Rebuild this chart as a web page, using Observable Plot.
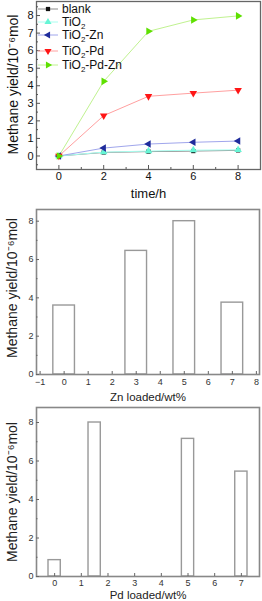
<!DOCTYPE html>
<html><head><meta charset="utf-8">
<script src="https://cdn.jsdelivr.net/npm/d3@7"></script>
<script src="https://cdn.jsdelivr.net/npm/@observablehq/plot@0.6"></script>
<style>
body{margin:0;background:#fff;font-family:"Liberation Sans",Arial,sans-serif;}
.panel{position:relative;width:262px;}
.panel svg{background:transparent;overflow:visible;}
.legend{position:absolute;left:0;top:0;font-size:12px;color:#111;}
.row{position:absolute;left:38px;height:14px;line-height:14px;display:flex;align-items:center;white-space:nowrap;}
.row svg{margin-right:4px;}
sub{font-size:8px;line-height:0;vertical-align:-3px;}
</style></head><body>
<div id="p1" class="panel"></div><div id="p2" class="panel"></div><div id="p3" class="panel"></div>
<script>
// ---- data ----
const times = [0, 2, 4, 6, 8];
const seriesNames = ["blank", "TiO2", "TiO2-Zn", "TiO2-Pd", "TiO2-Pd-Zn"];
const blankYield = [0, 0.20, 0.25, 0.28, 0.32];
const tio2Yield = [0, 0.22, 0.28, 0.33, 0.35];
const tio2ZnYield = [0, 0.45, 0.68, 0.78, 0.85];
const tio2PdYield = [0, 2.30, 3.40, 3.58, 3.75];
const tio2PdZnYield = [0, 4.25, 7.10, 7.75, 7.98];

const znLoad = [0, 3, 5, 7];
const znYield = [3.6, 6.45, 8.0, 3.75];
const pdLoad = [0, 1.5, 5, 7];
const pdYield = [0.85, 8.0, 7.15, 5.45];

const p1XTicks = [0, 2, 4, 6, 8];
const p1XMinor = [1, 3, 5, 7];
const p1YTicks = [0, 1, 2, 3, 4, 5, 6, 7, 8];
const p1YMinor = [-0.5, 0.5, 1.5, 2.5, 3.5, 4.5, 5.5, 6.5, 7.5, 8.5];
const p2XTicks = [-1, 0, 1, 2, 3, 4, 5, 6, 7, 8];
const p2YTicks = [0, 2, 4, 6, 8];
const p2YMinor = [1, 3, 5, 7];
const p3XTicks = [0, 1, 2, 3, 4, 5, 6, 7];
const p3YTicks = [0, 2, 4, 6, 8];
const p3YMinor = [1, 3, 5, 7];

const yTitle = "Methane yield/10\u207B\u2076mol";

// ---- styles ----
const seriesValues = [blankYield, tio2Yield, tio2ZnYield, tio2PdYield, tio2PdZnYield];
const styles = {
  "blank":      {line: "#8a8a8a", mark: "#111111", symbol: "square", rotate: 0},
  "TiO2":       {line: "#a8fff0", mark: "#66f5d5", symbol: "triangle", rotate: 0},
  "TiO2-Zn":    {line: "#a0a6ec", mark: "#1f2c9c", symbol: "triangle", rotate: -90},
  "TiO2-Pd":    {line: "#ffa0a0", mark: "#ff1515", symbol: "triangle", rotate: 180},
  "TiO2-Pd-Zn": {line: "#c0f290", mark: "#5ee000", symbol: "triangle", rotate: 90}
};
const rows = seriesNames.flatMap((s, i) => times.map((t, j) => ({series: s, t, v: seriesValues[i][j]})));

function inTicks(axis, values, size, stroke) {
  const f = axis === "x" ? Plot.axisX : Plot.axisY;
  return f(values, {tickSize: -size, fill: "none", label: null, stroke, strokeWidth: 1});
}
function tickLabels(axis, values, fontSize, color, pad) {
  const f = axis === "x" ? Plot.axisX : Plot.axisY;
  return f(values, {tickSize: 0, tickPadding: pad, fontSize, fill: color, label: null});
}
function yLabel(dx, dy, fontSize, fill) {
  return Plot.text([yTitle], {text: d => d, frameAnchor: "left", textAnchor: "middle", dx, dy, rotate: -90, lineAnchor: "middle", fontSize, fill});
}

// ---- panel 1 ----
const p1 = Plot.plot({
  width: 262, height: 200,
  marginTop: 1, marginBottom: 31, marginLeft: 36, marginRight: 2,
  style: {fontFamily: '"Liberation Sans", Arial, sans-serif', background: "transparent"},
  x: {domain: [-1, 9]},
  y: {domain: [-0.77, 8.8]},
  marks: [
    ...seriesNames.map(s => Plot.line(rows.filter(d => d.series === s), {x: "t", y: "v", stroke: styles[s].line, strokeWidth: 1})),
    ...seriesNames.map(s => Plot.dot(rows.filter(d => d.series === s), {x: "t", y: "v", symbol: styles[s].symbol, rotate: styles[s].rotate, fill: styles[s].mark, r: s === "blank" ? 2.4 : 2.8})),
    Plot.frame({stroke: "#666", strokeWidth: 1.3}),
    inTicks("x", p1XTicks, 4, "#555"),
    inTicks("x", p1XMinor, 2, "#555"),
    inTicks("y", p1YTicks, 4, "#555"),
    inTicks("y", p1YMinor, 2, "#555"),
    tickLabels("x", p1XTicks, 11, "#111", 3),
    tickLabels("y", p1YTicks, 11, "#111", 3),
    Plot.text(["time/h"], {text: d => d, frameAnchor: "bottom", dy: 24, lineAnchor: "middle", fontSize: 13, fill: "#111"}),
    yLabel(-23, -1, 14, "#111")
  ]
});
document.getElementById("p1").append(p1);

// legend
const legend = document.createElement("div");
legend.className = "legend";
const legendCenters = [9, 21.5, 35, 50.5, 64.5];
const legendHtml = ["blank", "TiO<sub>2</sub>", "TiO<sub>2</sub>-Zn", "TiO<sub>2</sub>-Pd", "TiO<sub>2</sub>-Pd-Zn"];
seriesNames.forEach((s, i) => {
  const st = styles[s];
  const sym = d3.symbol().type(st.symbol === "square" ? d3.symbolSquare : d3.symbolTriangle).size(st.symbol === "square" ? 18 : 22)();
  const row = document.createElement("div");
  row.className = "row";
  row.style.top = (legendCenters[i] - 7) + "px";
  row.innerHTML = `<svg width="20" height="14"><line x1="0" x2="20" y1="7" y2="7" stroke="${st.line}" stroke-width="1"/><path d="${sym}" transform="translate(10,7) rotate(${st.rotate})" fill="${st.mark}"/></svg><span>${legendHtml[i]}</span>`;
  legend.append(row);
});
document.getElementById("p1").append(legend);

// ---- panel 2 ----
const znRows = znLoad.map((x, i) => ({x, v: znYield[i]}));
const p2 = Plot.plot({
  width: 262, height: 205,
  marginTop: 9, marginBottom: 31, marginLeft: 36, marginRight: 3,
  style: {fontFamily: '"Liberation Sans", Arial, sans-serif', background: "transparent"},
  x: {domain: [-1.15, 8.13]},
  y: {domain: [0, 8.61]},
  marks: [
    Plot.rectY(znRows, {x1: d => d.x - 0.45, x2: d => d.x + 0.45, y1: 0, y2: "v", fill: "white", stroke: "#999", strokeWidth: 1.4}),
    Plot.frame({stroke: "#888", strokeWidth: 1.6}),
    inTicks("x", p2XTicks, 3, "#666"),
    inTicks("y", p2YTicks, 3, "#666"),
    inTicks("y", p2YMinor, 1.5, "#666"),
    tickLabels("x", p2XTicks, 9, "#333", 4),
    tickLabels("y", p2YTicks, 9, "#333", 3),
    Plot.text(["Zn loaded/wt%"], {text: d => d, frameAnchor: "bottom", dy: 23, lineAnchor: "middle", fontSize: 11.5, fill: "#222"}),
    yLabel(-24, -4, 14, "#222")
  ]
});
document.getElementById("p2").append(p2);

// ---- panel 3 ----
const pdRows = pdLoad.map((x, i) => ({x, v: pdYield[i]}));
const p3 = Plot.plot({
  width: 262, height: 196,
  marginTop: 2, marginBottom: 25, marginLeft: 36, marginRight: 3,
  style: {fontFamily: '"Liberation Sans", Arial, sans-serif', background: "transparent"},
  x: {domain: [-0.68, 7.68]},
  y: {domain: [0, 8.78]},
  marks: [
    Plot.rectY(pdRows, {x1: d => d.x - 0.23, x2: d => d.x + 0.23, y1: 0, y2: "v", fill: "white", stroke: "#999", strokeWidth: 1.4}),
    Plot.frame({stroke: "#888", strokeWidth: 1.6}),
    inTicks("x", p3XTicks, 3, "#666"),
    inTicks("y", p3YTicks, 3, "#666"),
    inTicks("y", p3YMinor, 1.5, "#666"),
    tickLabels("x", p3XTicks, 9, "#333", 3),
    tickLabels("y", p3YTicks, 9, "#333", 3),
    Plot.text(["Pd loaded/wt%"], {text: d => d, frameAnchor: "bottom", dy: 19, lineAnchor: "middle", fontSize: 11.5, fill: "#222"}),
    yLabel(-24, 0, 14, "#222")
  ]
});
document.getElementById("p3").append(p3);
</script>
</body></html>
